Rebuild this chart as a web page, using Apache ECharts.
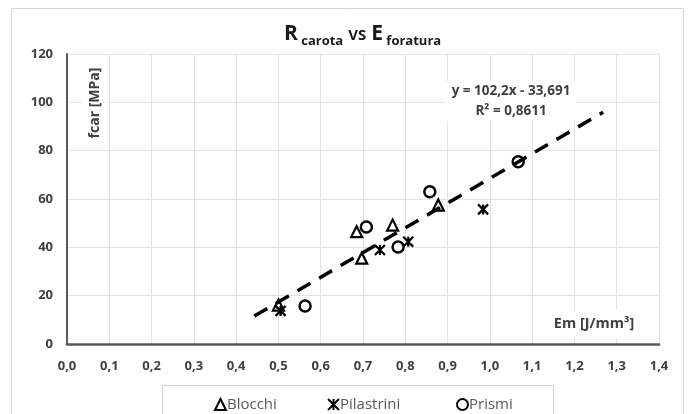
<!DOCTYPE html>
<html>
<head>
<meta charset="utf-8">
<script src="https://cdn.jsdelivr.net/npm/echarts@6/dist/echarts.min.js"></script>
<style>
html,body{margin:0;padding:0;background:#fff;}
#chart{width:691px;height:414px;}
</style>
</head>
<body>
<div id="chart"></div>
<script>
// ---- data ----
const blocchi = [[0.50, 16.1], [0.685, 46.5], [0.697, 35.5], [0.77, 49.2], [0.878, 57.5]];
const pilastrini = [[0.505, 13.7], [0.74, 38.9], [0.807, 42.3], [0.984, 55.7]];
const prismi = [[0.563, 15.7], [0.708, 48.4], [0.783, 40.1], [0.858, 63.0], [1.067, 75.4]];
const trendSlope = 102.2;
const trendIntercept = -33.691;
const trendR2 = 0.8611;
const trendRange = [0.443, 1.268];
const seriesNames = ['Blocchi', 'Pilastrini', 'Prismi'];
const xTickMin = 0, xTickMax = 1.4, xTickStep = 0.1;
const yTickMin = 0, yTickMax = 120, yTickStep = 20;

const trendData = trendRange.map(x => [x, trendSlope * x + trendIntercept]);
const fmtIt = v => String(v).replace('.', ',');

const FONT = '"Open Sans", "Noto Sans", sans-serif';
const chart = echarts.init(document.getElementById('chart'), null, {renderer: 'canvas'});
const starPath = 'path://M0,0L10,10M10,0L0,10M5,0L5,10';

const legendBase = {
  top: 392, itemWidth: 11, itemHeight: 11,
  textStyle: {fontFamily: FONT, fontSize: 15, color: '#595959', padding: [0, 0, 0, -4]}
};
const legendLefts = [209, 322, 451];

chart.setOption({
  animation: false,
  backgroundColor: '#fff',
  title: {
    left: 279, top: 17,
    text: '{big|R}{sub| carota} {mid|VS} {big|E}{sub| foratura}',
    textStyle: {
      rich: {
        big: {fontFamily: FONT, fontSize: 21, fontWeight: 'bold', color: '#1a1a1a', lineHeight: 25},
        mid: {fontFamily: FONT, fontSize: 15, fontWeight: 'bold', color: '#1a1a1a', lineHeight: 25, padding: [3, 0, 0, 0]},
        sub: {fontFamily: FONT, fontSize: 13, fontWeight: 'bold', color: '#1a1a1a', lineHeight: 15, padding: [13, 0, 0, 0]}
      }
    }
  },
  grid: {left: 67, right: 32, top: 54, bottom: 70, containLabel: false},
  xAxis: {
    type: 'value', min: xTickMin, max: xTickMax, interval: xTickStep,
    axisLine: {show: true, onZero: false, lineStyle: {color: '#595959', width: 2.5}},
    axisTick: {show: false},
    splitLine: {show: true, lineStyle: {color: '#e3e3e3', width: 1}},
    axisLabel: {
      margin: 16, color: '#404040', fontFamily: FONT, fontWeight: 'bold', fontSize: 13,
      formatter: v => v.toFixed(1).replace('.', ',')
    }
  },
  yAxis: {
    type: 'value', min: yTickMin, max: yTickMax, interval: yTickStep,
    axisLine: {show: true, lineStyle: {color: '#595959', width: 2}},
    axisTick: {show: false},
    splitLine: {show: true, lineStyle: {color: '#e3e3e3', width: 1}},
    axisLabel: {margin: 14, color: '#404040', fontFamily: FONT, fontWeight: 'bold', fontSize: 13}
  },
  legend: seriesNames.map((n, i) => Object.assign({}, legendBase, {data: [n], left: legendLefts[i]})),
  series: [
    {
      name: seriesNames[0], type: 'scatter', data: blocchi,
      symbol: 'triangle', symbolSize: 11,
      itemStyle: {color: '#fff', borderColor: '#000', borderWidth: 2.2, opacity: 1}
    },
    {
      name: seriesNames[1], type: 'scatter', data: pilastrini,
      symbol: starPath, symbolSize: 10,
      itemStyle: {color: '#000', borderColor: '#000', borderWidth: 2.2, opacity: 1}
    },
    {
      name: seriesNames[2], type: 'scatter', data: prismi,
      symbol: 'circle', symbolSize: 11,
      itemStyle: {color: '#fff', borderColor: '#000', borderWidth: 2.5, opacity: 1}
    },
    {
      name: 'trend', type: 'line', data: trendData, showSymbol: false, symbol: 'none',
      z: 5, silent: true,
      lineStyle: {color: '#000', width: 3.5, type: [15, 10]}
    }
  ],
  graphic: [
    {
      type: 'rect', z: -1, silent: true,
      shape: {x: 11.5, y: 8.5, width: 672, height: 430},
      style: {fill: 'none', stroke: '#d9d9d9', lineWidth: 1}
    },
    {
      type: 'rect', z: 1, silent: true,
      shape: {x: 162.5, y: 385.5, width: 391, height: 40},
      style: {fill: '#fff', stroke: '#d0d0d0', lineWidth: 1}
    },
    {
      type: 'text', z: 10, x: 511, y: 101,
      style: {
        text: 'y = ' + fmtIt(trendSlope) + 'x - ' + fmtIt(-trendIntercept) + '\nR² = ' + fmtIt(trendR2),
        fontFamily: FONT, fontSize: 13.5, fontWeight: 'bold', fill: '#404040',
        align: 'center', verticalAlign: 'middle', lineHeight: 20,
        backgroundColor: '#fff', padding: [0, 6, 0, 6]
      }
    },
    {
      type: 'text', z: 10, x: 594, y: 324,
      style: {
        text: 'Em [J/mm³]', fontFamily: FONT, fontSize: 14.5, fontWeight: 'bold', fill: '#404040',
        align: 'center', verticalAlign: 'middle', backgroundColor: '#fff', padding: [7, 14, 7, 14]
      }
    },
    {
      type: 'text', z: 10, x: 95, y: 103, rotation: Math.PI / 2,
      style: {
        text: 'fcar [MPa]', fontFamily: FONT, fontSize: 14, fontWeight: 'bold', fill: '#404040',
        align: 'center', verticalAlign: 'middle', backgroundColor: '#fff', padding: [6, 10, 6, 10]
      }
    }
  ]
});
</script>
</body>
</html>
